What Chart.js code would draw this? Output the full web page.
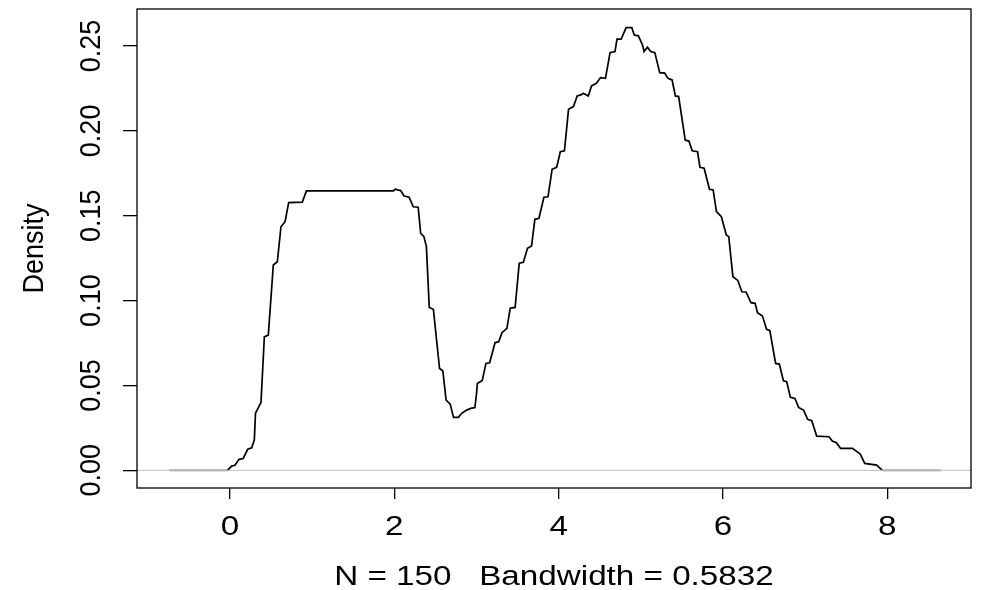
<!DOCTYPE html>
<html>
<head>
<meta charset="utf-8">
<script src="https://cdn.jsdelivr.net/npm/chart.js@4.4.1/dist/chart.umd.min.js"></script>
<style>
  html, body { margin: 0; padding: 0; background: #fff; }
  canvas { display: block; }
</style>
</head>
<body>
<canvas id="densityChart" width="986" height="590"></canvas>
<script>
// density curve (x = value, y = density)
const densX = [
  -0.74, -0.03, 0.02, 0.06, 0.11, 0.16, 0.215, 0.264, 0.296, 0.31, 0.345, 0.377,
  0.418, 0.466, 0.527, 0.576, 0.62, 0.67, 0.714, 0.88, 0.93, 1.99, 2.01, 2.04,
  2.077, 2.118, 2.18, 2.23, 2.29, 2.32, 2.36, 2.39, 2.425, 2.475, 2.55, 2.59,
  2.63, 2.68, 2.72, 2.78, 2.82, 2.88, 2.93, 2.98, 3.0, 3.01, 3.07, 3.115, 3.16,
  3.225, 3.27, 3.31, 3.37, 3.41, 3.47, 3.52, 3.57, 3.62, 3.67, 3.71, 3.76, 3.82,
  3.87, 3.92, 3.975, 4.02, 4.07, 4.12, 4.18, 4.225, 4.27, 4.30, 4.36, 4.40, 4.46,
  4.51, 4.57, 4.625, 4.685, 4.71, 4.76, 4.80, 4.82, 4.89, 4.92, 4.97, 5.02, 5.04,
  5.08, 5.12, 5.17, 5.23, 5.29, 5.33, 5.38, 5.42, 5.46, 5.54, 5.585, 5.625, 5.69,
  5.72, 5.77, 5.835, 5.88, 5.92, 5.98, 6.04, 6.07, 6.12, 6.18, 6.23, 6.28, 6.34,
  6.39, 6.42, 6.48, 6.53, 6.57, 6.64, 6.685, 6.735, 6.775, 6.82, 6.875, 6.92,
  6.98, 7.03, 7.08, 7.14, 7.29, 7.33, 7.38, 7.43, 7.575, 7.63, 7.67, 7.725, 7.87,
  7.94, 8.65
];
const densY = [
  0, 0, 0.0025, 0.003, 0.0065, 0.007, 0.0124, 0.0133, 0.018, 0.0336, 0.037, 0.040,
  0.0787, 0.0797, 0.121, 0.1229, 0.1435, 0.1465, 0.1577, 0.158, 0.1646, 0.1646, 0.1656, 0.1652,
  0.1648, 0.1616, 0.1609, 0.1553, 0.155, 0.1397, 0.1377, 0.1318, 0.096, 0.0949, 0.060, 0.0587,
  0.0414, 0.039, 0.0312, 0.0312, 0.0336, 0.0355, 0.0365, 0.037, 0.045, 0.0512, 0.053, 0.063, 0.0634,
  0.0752, 0.0758, 0.0811, 0.0837, 0.0955, 0.096, 0.122, 0.1226, 0.1308, 0.1322, 0.1479, 0.1485, 0.1609,
  0.1612, 0.1774, 0.1785, 0.1877, 0.1882, 0.2127, 0.2143, 0.2206, 0.2212, 0.2222, 0.2206, 0.2265, 0.2281,
  0.2314, 0.231, 0.2461, 0.2467, 0.254, 0.254, 0.2585, 0.2608, 0.2608, 0.2565, 0.256, 0.2506, 0.2467,
  0.2493, 0.2467, 0.2461, 0.2343, 0.234, 0.231, 0.230, 0.2206, 0.2202, 0.1946, 0.194, 0.1883, 0.1877,
  0.1785, 0.178, 0.1656, 0.1652, 0.1524, 0.1494, 0.1387, 0.1377, 0.1141, 0.1119, 0.1052, 0.1051, 0.0988,
  0.0984, 0.0929, 0.0909, 0.0831, 0.0823, 0.063, 0.0626, 0.0528, 0.0522, 0.043, 0.0424, 0.0371,
  0.0355, 0.030, 0.0292, 0.0202, 0.0198, 0.0173, 0.0163, 0.013, 0.013, 0.011, 0.0096, 0.0041, 0.0031,
  0, 0
];

const xTicks = [0, 2, 4, 6, 8];
const yTicks = [0, 0.05, 0.10, 0.15, 0.20, 0.25];
const xLimits = [-1.132, 9.018];
const yLimits = [-0.0104, 0.2718];

const xTitle = 'N = 150   Bandwidth = 0.5832';
const yTitle = 'Density';

const FONT = "27px 'Liberation Sans', Arial, sans-serif";
// text in the picture is a bit wider than tall
const STRETCH_H = 1.23;
const STRETCH_V = 1.08;

function putText(ctx, text, x, y, rotated) {
  ctx.save();
  ctx.translate(x, y);
  ctx.scale(rotated ? STRETCH_V : STRETCH_H, 1);
  if (rotated) ctx.rotate(-Math.PI / 2);
  ctx.fillText(text, 0, 0);
  ctx.restore();
}

// zero line, frame and all the text (R style)
const rStyle = {
  id: 'rStyle',
  afterDatasetsDraw(chart) {
    const { ctx, chartArea: a, scales } = chart;
    const y0 = scales.y.getPixelForValue(0);
    ctx.save();
    ctx.strokeStyle = '#bebebe';
    ctx.lineWidth = 1;
    ctx.beginPath();
    ctx.moveTo(a.left, y0);
    ctx.lineTo(a.right, y0);
    ctx.stroke();
    ctx.restore();
  },
  afterDraw(chart) {
    const { ctx, chartArea: a, scales } = chart;
    ctx.save();
    ctx.strokeStyle = '#000';
    ctx.lineWidth = 1.3;
    ctx.strokeRect(a.left, a.top, a.right - a.left, a.bottom - a.top);

    ctx.fillStyle = '#000';
    ctx.font = FONT;
    ctx.textAlign = 'center';
    ctx.textBaseline = 'alphabetic';
    xTicks.forEach(v => putText(ctx, String(v), scales.x.getPixelForValue(v), a.bottom + 47, false));
    yTicks.forEach(v => putText(ctx, v.toFixed(2), a.left - 37, scales.y.getPixelForValue(v), true));
    putText(ctx, xTitle, (a.left + a.right) / 2, a.bottom + 97, false);
    putText(ctx, yTitle, 43, (a.top + a.bottom) / 2, true);
    ctx.restore();
  }
};

const points = densX.map((x, i) => ({ x, y: densY[i] }));
const flat = c => c.p0.parsed.y === 0 && c.p1.parsed.y === 0;

new Chart(document.getElementById('densityChart'), {
  type: 'line',
  data: {
    datasets: [{
      data: points,
      borderColor: '#000',
      borderWidth: 1.7,
      pointRadius: 0,
      tension: 0,
      fill: false,
      segment: {
        borderColor: c => flat(c) ? '#b8b8b8' : undefined,
        borderWidth: c => flat(c) ? 2.5 : undefined
      }
    }]
  },
  options: {
    responsive: false,
    animation: false,
    devicePixelRatio: 1,
    layout: { padding: { top: 9, right: 15, left: 0, bottom: 0 } },
    plugins: { legend: { display: false }, tooltip: { enabled: false } },
    scales: {
      x: {
        type: 'linear',
        min: xLimits[0],
        max: xLimits[1],
        afterBuildTicks: s => { s.ticks = xTicks.map(v => ({ value: v })); },
        afterFit: s => { s.height = 102; },
        ticks: { display: false },
        border: { display: false },
        grid: { drawOnChartArea: false, drawTicks: true, tickLength: 11, color: '#000', lineWidth: 1.3 }
      },
      y: {
        type: 'linear',
        min: yLimits[0],
        max: yLimits[1],
        afterBuildTicks: s => { s.ticks = yTicks.map(v => ({ value: v })); },
        afterFit: s => { s.width = 137; },
        ticks: { display: false },
        border: { display: false },
        grid: { drawOnChartArea: false, drawTicks: true, tickLength: 14, color: '#000', lineWidth: 1.3 }
      }
    }
  },
  plugins: [rStyle]
});
</script>
</body>
</html>
